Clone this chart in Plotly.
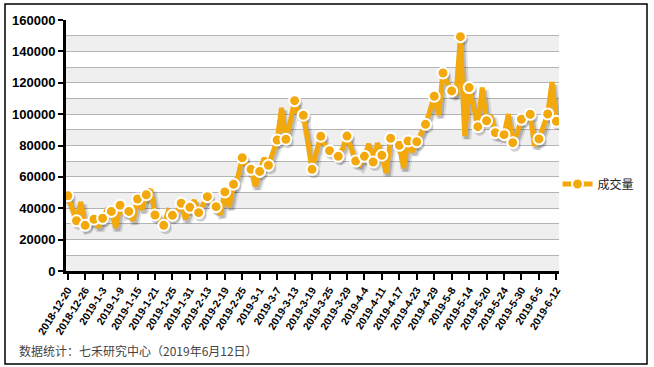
import plotly.graph_objects as go

dates = [
    "2018-12-20", "2018-12-21", "2018-12-24", "2018-12-25", "2018-12-26", "2018-12-27", "2018-12-28",
    "2019-1-2", "2019-1-3", "2019-1-4", "2019-1-7", "2019-1-8", "2019-1-9", "2019-1-10", "2019-1-11",
    "2019-1-14", "2019-1-15", "2019-1-16", "2019-1-17", "2019-1-18", "2019-1-21", "2019-1-22",
    "2019-1-23", "2019-1-24", "2019-1-25", "2019-1-28", "2019-1-29", "2019-1-30", "2019-1-31",
    "2019-2-1", "2019-2-11", "2019-2-12", "2019-2-13", "2019-2-14", "2019-2-15", "2019-2-18",
    "2019-2-19", "2019-2-20", "2019-2-21", "2019-2-22", "2019-2-25", "2019-2-26", "2019-2-27", "2019-2-28",
    "2019-3-1", "2019-3-4", "2019-3-5", "2019-3-6", "2019-3-7", "2019-3-8", "2019-3-11", "2019-3-12",
    "2019-3-13", "2019-3-14", "2019-3-15", "2019-3-18", "2019-3-19", "2019-3-20", "2019-3-21",
    "2019-3-22", "2019-3-25", "2019-3-26", "2019-3-27", "2019-3-28", "2019-3-29",
    "2019-4-1", "2019-4-2", "2019-4-3", "2019-4-4", "2019-4-8", "2019-4-9", "2019-4-10", "2019-4-11",
    "2019-4-12", "2019-4-15", "2019-4-16", "2019-4-17", "2019-4-18", "2019-4-19", "2019-4-22",
    "2019-4-23", "2019-4-24", "2019-4-25", "2019-4-26", "2019-4-29", "2019-4-30",
    "2019-5-6", "2019-5-7", "2019-5-8", "2019-5-9", "2019-5-10", "2019-5-13", "2019-5-14", "2019-5-15",
    "2019-5-16", "2019-5-17", "2019-5-20", "2019-5-21", "2019-5-22", "2019-5-23", "2019-5-24",
    "2019-5-27", "2019-5-28", "2019-5-29", "2019-5-30", "2019-5-31",
    "2019-6-3", "2019-6-4", "2019-6-5", "2019-6-6", "2019-6-10", "2019-6-11", "2019-6-12",
]

volume = [
    48000, 41000, 32000, 44000, 29100, 31000, 33000,
    28000, 33600, 39000, 38000, 27500, 41900, 37000, 38000,
    32000, 45900, 39000, 48600, 52000, 35700, 32000,
    29100, 38000, 35500, 38000, 43200, 33000, 40600,
    45000, 37200, 42000, 47400, 43000, 41000, 36000,
    50400, 41000, 55300, 60000, 72200, 68000, 64800, 54000,
    63500, 72000, 67400, 76000, 83500, 104000, 84000, 95000,
    108600, 100000, 99300, 83000, 64800, 76000, 85900,
    80000, 76700, 75000, 73100, 78000, 86000,
    78000, 70100, 68000, 73100, 81000, 69500, 81500, 73800,
    62500, 84600, 82000, 80100, 65500, 82900, 76000,
    82400, 88000, 93500, 102000, 111400, 99500,
    126200, 120000, 114800, 112000, 149400, 86000, 116900, 105000,
    92000, 117000, 95800, 99000, 88200, 86000, 86900,
    100000, 81800, 88000, 96700, 98000,
    99900, 80000, 84200, 92000, 100100, 120500, 95400,
]

series_name = "成交量"
note_text = "数据统计：七禾研究中心（2019年6月12日）"
tick_labels = dates[::4]
marker_dates = dates[::2]
marker_values = volume[::2]

ORANGE = "#F3A80C"
LATIN = "Liberation Sans, Arial, sans-serif"
CJK = "Noto Sans CJK SC, sans-serif"

xr = [-0.4, 112.6]
yr = [0, 160000]
# shadow offset (in axis units): about 2px right, 3px down
dx = 2 * (xr[1] - xr[0]) / 493
dy = 3 * (yr[1] - yr[0]) / 251

fig = go.Figure()

# base axes trace (invisible) to set category order
fig.add_trace(go.Scatter(x=dates, y=volume, mode="lines", line=dict(width=0, color="rgba(0,0,0,0)"),
                         hoverinfo="skip", showlegend=False, xaxis="x", yaxis="y"))

# shadow
fig.add_trace(go.Scatter(x=dates, y=volume, mode="lines",
                         line=dict(color="rgba(0,0,0,0.10)", width=9),
                         hoverinfo="skip", showlegend=False, xaxis="x2", yaxis="y2"))
fig.add_trace(go.Scatter(x=dates, y=volume, mode="lines",
                         line=dict(color="rgba(0,0,0,0.18)", width=5),
                         hoverinfo="skip", showlegend=False, xaxis="x2", yaxis="y2"))
fig.add_trace(go.Scatter(x=marker_dates, y=marker_values, mode="markers",
                         marker=dict(size=12, color="rgba(0,0,0,0.18)", line=dict(width=0)),
                         hoverinfo="skip", showlegend=False, xaxis="x2", yaxis="y2"))

# main line
fig.add_trace(go.Scatter(x=dates, y=volume, mode="lines", name=series_name,
                         line=dict(color=ORANGE, width=5), showlegend=False,
                         xaxis="x3", yaxis="y3"))
fig.add_trace(go.Scatter(x=marker_dates, y=marker_values, mode="markers", name=series_name,
                         marker=dict(size=11, color=ORANGE, line=dict(color="white", width=2)),
                         showlegend=False, xaxis="x3", yaxis="y3"))
# legend entry
fig.add_trace(go.Scatter(x=[None], y=[None], mode="lines+markers", name=series_name,
                         line=dict(color=ORANGE, width=5),
                         marker=dict(size=11, color=ORANGE, line=dict(color="white", width=2)),
                         xaxis="x3", yaxis="y3"))

shapes = []
# alternating bands
for lo in range(0, 160000, 20000):
    shapes.append(dict(type="rect", xref="paper", yref="y", x0=0, x1=1, y0=lo, y1=lo + 10000,
                       fillcolor="#EFEFEF", line=dict(width=0), layer="below"))
# outer frame
shapes.append(dict(type="rect", xref="paper", yref="paper",
                   x0=(5 - 66) / 493, x1=(647 - 66) / 493,
                   y0=(271 - 364) / 251, y1=(271 - 4) / 251,
                   line=dict(color="black", width=1.5), fillcolor="rgba(0,0,0,0)", layer="above"))

fig.update_layout(
    width=654, height=367,
    margin=dict(l=66, r=95, t=20, b=96, autoexpand=False),
    paper_bgcolor="white", plot_bgcolor="white",
    showlegend=True,
    legend=dict(x=0.997, y=(271 - 184) / 251, xanchor="left", yanchor="middle",
                font=dict(family=CJK, size=12, color="#222"), bgcolor="rgba(0,0,0,0)",
                itemwidth=30),
    xaxis=dict(type="category", categoryorder="array", categoryarray=dates, range=xr,
               automargin=False,
               tickmode="array", tickvals=tick_labels, ticktext=tick_labels,
               tickangle=-58, ticks="outside", ticklen=6, tickwidth=2, tickcolor="black",
               showline=True, linecolor="black", linewidth=3, showgrid=False, zeroline=False,
               tickfont=dict(family=LATIN, size=10.5, color="black", weight="bold")),
    yaxis=dict(range=yr, tick0=0, dtick=20000, tickformat="d", automargin=False,
               ticks="outside", ticklen=5, tickwidth=2,
               tickcolor="black", showline=True, linecolor="black", linewidth=3,
               showgrid=True, gridcolor="#B4B4B4", gridwidth=1, zeroline=False,
               minor=dict(dtick=10000, showgrid=True, gridcolor="#B4B4B4", gridwidth=1, ticks=""),
               tickfont=dict(family=LATIN, size=13, color="black", weight="bold")),
    xaxis2=dict(type="category", categoryorder="array", categoryarray=dates,
                range=[xr[0] - dx, xr[1] - dx], overlaying="x", visible=False),
    yaxis2=dict(range=[yr[0] + dy, yr[1] + dy], overlaying="y", visible=False),
    xaxis3=dict(type="category", categoryorder="array", categoryarray=dates,
                range=xr, overlaying="x", visible=False),
    yaxis3=dict(range=yr, overlaying="y", visible=False),
    shapes=shapes,
    annotations=[dict(text=note_text, xref="paper", yref="paper",
                      x=(17 - 66) / 493, y=(271 - 350) / 251, xanchor="left", yanchor="middle",
                      showarrow=False, font=dict(family=CJK, size=12, color="#444"))],
)

fig.write_html("out.html", config={"displayModeBar": False},
               post_script="document.body.style.margin='0';")
